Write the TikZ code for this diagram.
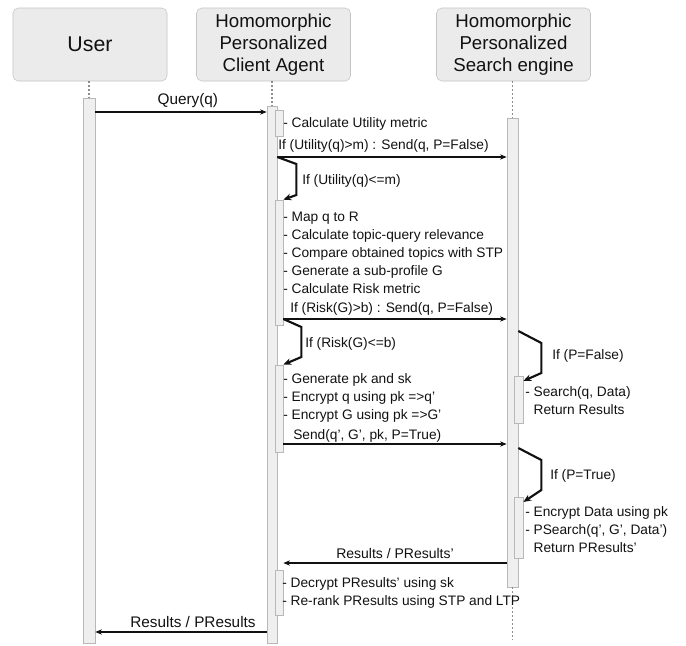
\documentclass[tikz,border=0pt]{standalone}
\usepackage{fontspec}
\setmainfont{Liberation Sans}
\usetikzlibrary{arrows.meta, positioning, fit}
\definecolor{boxfill}{HTML}{EBEBEB}
\definecolor{boxline}{HTML}{C4C4C4}
\definecolor{barfill}{HTML}{EFEFEF}
\definecolor{barline}{HTML}{B8B8B8}
\definecolor{lifegray}{HTML}{8C8C8C}
\definecolor{ink}{HTML}{111111}
\tikzset{
  headbox/.style={draw=boxline, fill=boxfill, rounded corners=4pt, inner sep=0pt,
    minimum width=115.5pt, minimum height=54.75pt, align=center,
    font=\fontsize{14}{16.5}\selectfont, text=ink},
  actbar/.style={draw=barline, fill=barfill, inner sep=0pt, line width=0.5pt},
  lifeline/.style={draw=lifegray, line width=0.8pt, dash pattern=on 1.5pt off 1.5pt},
  msgline/.style={-{Stealth[length=5pt, width=4pt]}, line width=0.9pt, draw=ink},
  loopline/.style={-{Stealth[length=6pt, width=5pt]}, line width=1.6pt, draw=ink},
  steptext/.style={anchor=base west, inner sep=0pt, font=\fontsize{10.3}{12}\selectfont, text=ink},
  msglbl/.style={inner sep=0pt, font=\fontsize{11.5}{13}\selectfont, text=ink}
}

\begin{document}
\begin{tikzpicture}[x=0.75pt, y=-0.75pt]
  \useasboundingbox (0,0) rectangle (686,646);

  % ---- Participants --------------------------------------------------------
  \node[headbox, font=\fontsize{16}{18}\selectfont] (user) at (90,44.5) {User};
  \node[headbox] (agent)  at (273.5,44.5) {Homomorphic\\Personalized\\Client Agent};
  \node[headbox] (engine) at (513.5,44.5) {Homomorphic\\Personalized\\Search engine};

  % ---- Activation bars -----------------------------------------------------
  \node[actbar, fit={(83,98) (95,643)}]   (ubar) {};
  \node[actbar, fit={(267,106) (277,643)}] (abar) {};
  \node[actbar, fit={(507,118) (518,587)}] (ebar) {};
  \node[actbar, fit={(275,110) (283,136)}] (act1) {};
  \node[actbar, fit={(275,200) (283,325)}] (act2) {};
  \node[actbar, fit={(275,365) (283,452)}] (act3) {};
  \node[actbar, fit={(275,570) (283,615)}] (act4) {};
  \node[actbar, fit={(514,376) (523,423)}] (eact1) {};
  \node[actbar, fit={(514,497) (523,558)}] (eact2) {};

  % ---- Lifelines -----------------------------------------------------------
  \coordinate (eend) at (512.5,640);
  \draw[lifeline] (ubar.north |- user.south) -- (ubar.north);
  \draw[lifeline] (abar.north |- agent.south) -- (abar.north);
  \draw[lifeline] (ebar.north |- engine.south) -- (ebar.north);
  \draw[lifeline] (ebar.south) -- (eend);

  % ---- Message rows --------------------------------------------------------
  \coordinate (rq)  at (0,112);
  \coordinate (rs1) at (0,157);
  \coordinate (rs2) at (0,319);
  \coordinate (rs3) at (0,444);
  \coordinate (rl1) at (0,331);
  \coordinate (rl2) at (0,448);
  \coordinate (rr)  at (0,563);
  \coordinate (rf)  at (0,632);

  % ---- Messages ------------------------------------------------------------
  \draw[msgline] (ubar.east |- rq) -- (abar.west |- rq)
        node[msglbl, pos=0.54, above=2.5pt] (lq) {Query(q)};
  \draw[msgline] (abar.east |- rs1) -- (ebar.west |- rs1);
  \draw[msgline] (act2.east |- rs2) -- (ebar.west |- rs2);
  \draw[msgline] (act3.east |- rs3) -- (ebar.west |- rs3);
  \draw[msgline] (ebar.west |- rr) -- (act4.east |- rr)
        node[msglbl, font=\fontsize{10.5}{12}\selectfont, midway, above=2.5pt] (lr) {Results / PResults'};
  \draw[msgline] (abar.west |- rf) -- (ubar.east |- rf)
        node[msglbl, pos=0.43, above=2.5pt] (lf) {Results / PResults};

  % ---- Self calls ----------------------------------------------------------
  \draw[loopline] (abar.east |- rs1) -- ++(19,7) -- ++(0,31) -- (act2.north east);
  \draw[loopline] (act2.east |- rs2) -- ++(18,8) -- ++(0,30) -- (act3.north east);
  \draw[loopline] (ebar.east |- rl1) -- ++(23,12) -- ++(0,30) -- ([yshift=-4pt]eact1.north east);
  \draw[loopline] (ebar.east |- rl2) -- ++(23,12) -- ++(0,30) -- ([yshift=-4pt]eact2.north east);

  \node[steptext] (lu1) at (302,184) {If (Utility(q)<=m)};
  \node[steptext] (lr1) at (305,347) {If (Risk(G)<=b)};
  \node[steptext] (lp1) at (552,359) {If (P=False)};
  \node[steptext] (lp2) at (550,479) {If (P=True)};

  % ---- Agent steps ---------------------------------------------------------
  \node[steptext] (util) at (283,127) {- Calculate Utility metric};
  \node[steptext] (ls1)  at (278,149) {If (Utility(q)>m) : Send(q, P=False)};
  \foreach \txt [count=\i] in {- Map q to R, - Calculate topic-query relevance,
      - Compare obtained topics with STP, - Generate a sub-profile G,
      - Calculate Risk metric}
    \node[steptext] (map\i) at (283, 203+18*\i) {\txt};
  \node[steptext] (ls2) at (290,312) {If (Risk(G)>b) : Send(q, P=False)};
  \foreach \txt [count=\i] in {- Generate pk and sk, - Encrypt q using pk =>q',
      - Encrypt G using pk =>G'}
    \node[steptext] (gen\i) at (283, 365+18*\i) {\txt};
  \node[steptext] (ls3) at (293,439) {Send(q', G', pk, P=True)};
  \foreach \txt [count=\i] in {- Decrypt PResults' using sk,
      - Re-rank PResults using STP and LTP}
    \node[steptext] (dec\i) at (282, 569+18*\i) {\txt};

  % ---- Engine steps --------------------------------------------------------
  \foreach \txt [count=\i] in {{- Search(q, Data)}, {\phantom{-} Return Results}}
    \node[steptext] (srch\i) at (525, 378+18*\i) {\txt};
  \foreach \txt [count=\i] in {- Encrypt Data using pk, {- PSearch(q', G', Data')},
      {\phantom{-} Return PResults'}}
    \node[steptext] (psrch\i) at (525, 498+18*\i) {\txt};

\end{tikzpicture}
\end{document}
